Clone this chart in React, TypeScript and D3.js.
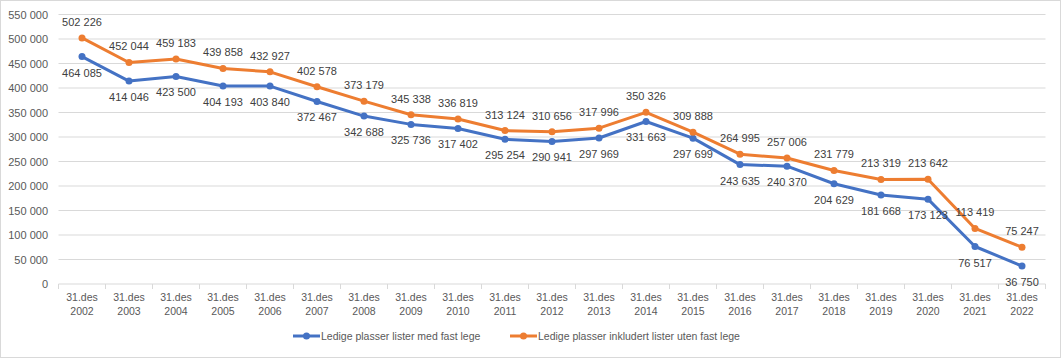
import React from "react";
import * as d3 from "d3";

const years = ["2002","2003","2004","2005","2006","2007","2008","2009","2010","2011","2012","2013","2014","2015","2016","2017","2018","2019","2020","2021","2022"];
const medFastLege = [464085,414046,423500,404193,403840,372467,342688,325736,317402,295254,290941,297969,331663,297699,243635,240370,204629,181668,173123,76517,36750];
const inklUtenFastLege = [502226,452044,459183,439858,432927,402578,373179,345338,336819,313124,310656,317996,350326,309888,264995,257006,231779,213319,213642,113419,75247];
const yTicks = [0,50000,100000,150000,200000,250000,300000,350000,400000,450000,500000,550000];
const seriesNames = ["Ledige plasser lister med fast lege", "Ledige plasser inkludert lister uten fast lege"];

const W = 1061, H = 358;
const left = 58.5, right = 1045.5, top = 14.5, bottom = 284;
const fmt = (v: number) => d3.format(",")(v).replace(/,/g, " ");
const font = "'Liberation Sans', Arial, sans-serif";
const textColor = "#595959";

export default function App() {
  const x = d3.scaleBand<string>().domain(years).range([left, right]);
  const y = d3.scaleLinear().domain([0, 550000]).range([bottom, top]);
  const cx = (yr: string) => (x(yr) as number) + x.bandwidth() / 2;
  const line = d3.line<number>().x((_, i) => cx(years[i])).y(d => y(d));
  const series = [
    { name: seriesNames[0], data: medFastLege, color: "#4472C4", dy: 20 },
    { name: seriesNames[1], data: inklUtenFastLege, color: "#ED7D31", dy: -12 },
  ];
  const bounds = years.map((yr) => x(yr) as number).concat([right]);
  return (
    <svg width={W} height={H} style={{ position: "absolute", left: 0, top: 0 }} fontFamily={font}>
      <rect x={0.5} y={0.5} width={W - 1} height={H - 1} fill="#fff" stroke="#D9D9D9" />
      {yTicks.map(t => (
        <g key={t}>
          {t > 0 && <line x1={left} x2={right} y1={y(t)} y2={y(t)} stroke="#D9D9D9" strokeWidth={1} />}
          <text x={48} y={y(t) + 4} textAnchor="end" fontSize={11} fill={textColor}>{fmt(t)}</text>
        </g>
      ))}
      <line x1={left} x2={right} y1={bottom} y2={bottom} stroke="#D9D9D9" />
      {bounds.map((b, i) => (
        <line key={i} x1={b} x2={b} y1={bottom} y2={bottom + 5} stroke="#D9D9D9" />
      ))}
      {years.map(yr => (
        <text key={yr} x={cx(yr)} textAnchor="middle" fontSize={10.5} fill={textColor}>
          <tspan x={cx(yr)} y={301}>31.des</tspan>
          <tspan x={cx(yr)} y={315}>{yr}</tspan>
        </text>
      ))}
      {series.map(s => (
        <g key={s.name}>
          <path d={line(s.data) as string} fill="none" stroke={s.color} strokeWidth={3} strokeLinejoin="round" strokeLinecap="round" />
          {s.data.map((v, i) => (
            <circle key={i} cx={cx(years[i])} cy={y(v)} r={3.5} fill={s.color} />
          ))}
        </g>
      ))}
      {series.map(s => (
        <g key={s.name + "l"}>
          {s.data.map((v, i) => (
            <text key={i} x={cx(years[i])} y={y(v) + s.dy} textAnchor="middle" fontSize={11} fill="#404040">{fmt(v)}</text>
          ))}
        </g>
      ))}
      {series.map((s, i) => {
        const lx = i === 0 ? 293 : 510;
        return (
          <g key={s.name + "g"}>
            <line x1={lx} x2={lx + 27} y1={336} y2={336} stroke={s.color} strokeWidth={3} />
            <circle cx={lx + 13.5} cy={336} r={3.5} fill={s.color} />
            <text x={lx + 28} y={340} fontSize={10.5} fill={textColor}>{s.name}</text>
          </g>
        );
      })}
    </svg>
  );
}
